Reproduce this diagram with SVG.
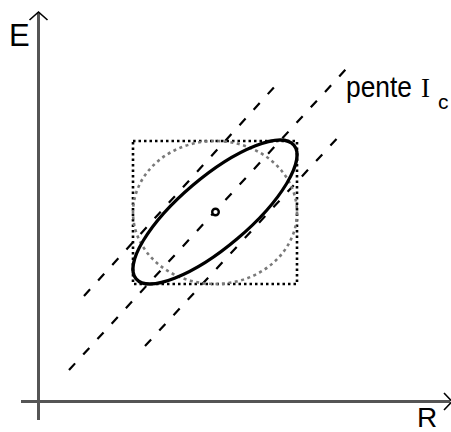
<svg xmlns="http://www.w3.org/2000/svg" width="451" height="432" viewBox="0 0 451 432">
<style>
.axis{stroke:#555;stroke-width:3;fill:none}
.arrow{stroke:#000;stroke-width:1.6;fill:none}
.dash{stroke:#000;stroke-width:2.2;stroke-dasharray:9 12;fill:none}
.sq{stroke:#000;stroke-width:2.6;stroke-dasharray:2.5 3;fill:none}
.circ{stroke:#7a7a7a;stroke-width:2.6;stroke-dasharray:3 3.5;fill:none}
.ell{stroke:#000;stroke-width:3.2;fill:none}
.lbl{font-family:"Liberation Sans",Arial,sans-serif;fill:#000}
</style>
<rect width="451" height="432" fill="#fff"/>
<g id="axes">
<line class="axis" x1="38.5" y1="13" x2="38.5" y2="420"/>
<line class="axis" x1="21" y1="401.5" x2="450" y2="401.5"/>
<polyline class="arrow" points="29.5,20 38.5,12 47.5,20"/>
<polyline class="arrow" points="444,393 452,401.5 444,410"/>
</g>
<g id="connectors">
<line class="dash" x1="69" y1="370" x2="347" y2="68"/>
<line class="dash" x1="84" y1="296" x2="277" y2="84"/>
<line class="dash" x1="145" y1="346" x2="343" y2="132"/>
</g>
<g id="box">
<rect class="sq" x="133" y="141" width="164" height="143"/>
</g>
<g id="circle">
<ellipse class="circ" cx="215" cy="212.5" rx="82" ry="71.5"/>
</g>
<g id="ellipse">
<ellipse class="ell" cx="215" cy="212" rx="103.4" ry="34.8" transform="rotate(-40.3 215 212)"/>
<circle cx="215.5" cy="212" r="3.3" fill="#fff" stroke="#000" stroke-width="2.4"/>
</g>
<g id="labels">
<text class="lbl" x="9" y="46" font-size="31">E</text>
<text class="lbl" x="417" y="427" font-size="28">R</text>
<text class="lbl" x="346" y="97" font-size="30" textLength="66" lengthAdjust="spacingAndGlyphs">pente</text>
<text x="421" y="97" font-family="'Liberation Serif','Times New Roman',serif" font-size="27">I</text>
<text class="lbl" x="438" y="109" font-size="21">c</text>
</g>
</svg>
